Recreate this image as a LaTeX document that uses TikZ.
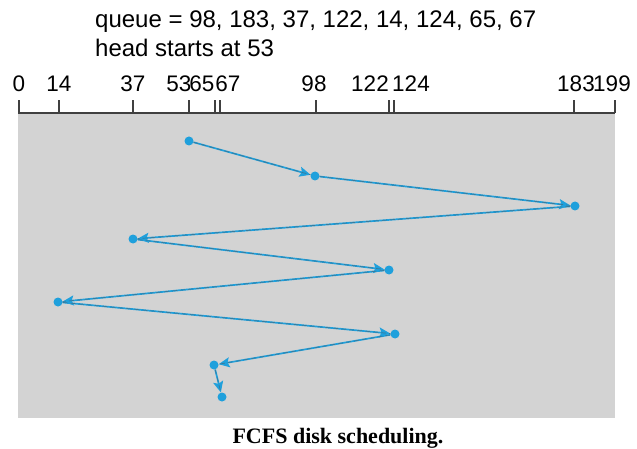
\documentclass[tikz,border=0pt]{standalone}
\usepackage{fontspec}
\setmainfont{Liberation Sans}
\newfontfamily\capfont{Liberation Serif}
\usetikzlibrary{arrows.meta}
\definecolor{trackgray}{HTML}{D3D3D3}
\definecolor{axisdark}{HTML}{404040}
\definecolor{headblue}{HTML}{1FA0DC}
\definecolor{headdash}{HTML}{3A7A9A}
\tikzset{
  reqpt/.style={circle, fill=headblue, minimum size=9pt, inner sep=0pt},
  seek/.style={draw=headblue, line width=1.7pt, -{Stealth[length=11pt,width=10pt,inset=2pt]},
    postaction={draw=headdash, line width=0.7pt, dash pattern=on 5pt off 3pt, -}},
  tick/.style={draw=axisdark, line width=1.2pt},
  lbl/.style={font=\fontsize{22.5}{26}\selectfont, inner sep=0pt, anchor=base},
  txt/.style={font=\fontsize{24}{28}\selectfont, inner sep=0pt, anchor=base west}
}
\begin{document}
\begin{tikzpicture}[x=1pt, y=-1pt]
\useasboundingbox (0,0) rectangle (637,449);
\fill[white] (0,0) rectangle (637,449);
% track area
\fill[trackgray] (18,113) rectangle (615,418);
\draw[axisdark, line width=2pt] (18,113) coordinate (axL) -- (615,113) coordinate (axR);
% header text
\node[txt] (queue) at (95,28) {queue = 98, 183, 37, 122, 14, 124, 65, 67};
\node[txt] (head) at (95,57) {head starts at 53};
% cylinder ticks and labels
\foreach \nm/\x/\lx in {0/19/19, 14/59/59, 37/133/133, 53/189/179, 65/215/202,
    67/220/228, 98/316/314, 122/389/370, 124/394/411, 183/574/576, 199/615/612}{
  \draw[tick] (\x,113) -- (\x,100);
  \node[lbl] (c\nm) at (\lx,92) {\nm};
}
% requested cylinders in service order
\node[reqpt] (r53)  at (189,141) {};
\node[reqpt] (r98)  at (315,176) {};
\node[reqpt] (r183) at (575,206) {};
\node[reqpt] (r37)  at (133,239) {};
\node[reqpt] (r122) at (389,270) {};
\node[reqpt] (r14)  at (58,302) {};
\node[reqpt] (r124) at (395,334) {};
\node[reqpt] (r65)  at (214,365) {};
\node[reqpt] (r67)  at (222,397) {};
\draw[seek] (r53) -- (r98);
\draw[seek] (r98) -- (r183);
\draw[seek] (r183) -- (r37);
\draw[seek] (r37) -- (r122);
\draw[seek] (r122) -- (r14);
\draw[seek] (r14) -- (r124);
\draw[seek] (r124) -- (r65);
\draw[seek] (r65) -- (r67);
% caption
\node[font=\capfont\bfseries\fontsize{22}{25}\selectfont, inner sep=0pt, anchor=base] (cap) at (338,443) {FCFS disk scheduling.};
\end{tikzpicture}
\end{document}
